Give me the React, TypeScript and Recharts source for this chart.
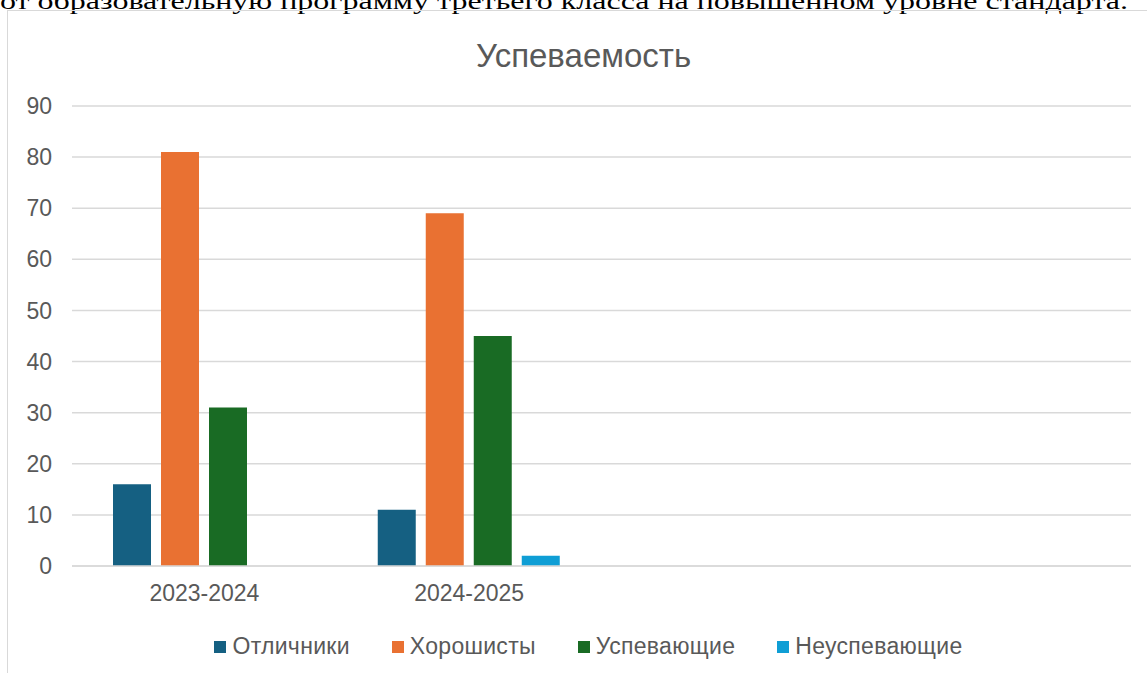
import { BarChart, Bar, XAxis, YAxis, CartesianGrid, Legend } from 'recharts';

const categories = ['2023-2024', '2024-2025', '', ''];
const otlichniki = [16, 11, null, null];
const horoshisty = [81, 69, null, null];
const uspevayushchie = [31, 45, null, null];
const neuspevayushchie = [0, 2, null, null];
const yTicks = [0, 10, 20, 30, 40, 50, 60, 70, 80, 90];

const SERIES = [
  { key: 'otl', name: 'Отличники', color: '#156082', values: otlichniki },
  { key: 'hor', name: 'Хорошисты', color: '#E97132', values: horoshisty },
  { key: 'usp', name: 'Успевающие', color: '#196B24', values: uspevayushchie },
  { key: 'neu', name: 'Неуспевающие', color: '#0F9ED5', values: neuspevayushchie },
];

const data = categories.map((name, i) => {
  const row: any = { id: i, name };
  SERIES.forEach((s) => { row[s.key] = s.values[i]; });
  return row;
});

const FONT = '"Liberation Sans", Arial, sans-serif';
const TEXT = '#595959';
const GRID = '#d9d9d9';

function LegendRow({ payload = [] }: any) {
  // keep series order (recharts sorts the payload by name)
  const items = SERIES.map((s) => payload.find((p: any) => p.dataKey === s.key)).filter(Boolean);
  return (
    <div style={{ display: 'flex', justifyContent: 'center', alignItems: 'center', fontFamily: FONT, fontSize: 23, color: TEXT }}>
      {items.map((p: any, i: number) => (
        <div key={i} style={{ display: 'flex', alignItems: 'center', marginRight: i < items.length - 1 ? 42 : 0 }}>
          <span style={{ width: 12, height: 12, background: p.color, display: 'inline-block', marginRight: 6 }} />
          <span style={{ letterSpacing: 0.3 }}>{p.value}</span>
        </div>
      ))}
    </div>
  );
}

export default function App() {
  return (
    <div style={{ position: 'absolute', left: 0, top: 0, width: 1147, height: 673, overflow: 'hidden', background: '#fff' }}>
      {/* cut-off line of the document above the chart */}
      <svg width={1147} height={20} style={{ position: 'absolute', left: 0, top: 0 }}>
        <text x={0} y={9} fontFamily='"Liberation Serif", "Times New Roman", serif' fontSize={24} fill="#000"
              textLength={1128} lengthAdjust="spacingAndGlyphs">
          от образовательную программу третьего класса на повышенном уровне стандарта.
        </text>
      </svg>
      {/* chart frame */}
      <div style={{ position: 'absolute', left: 7, top: 10, width: 1200, height: 700, border: `1.5px solid ${GRID}` }} />
      <div style={{ position: 'absolute', left: 0, top: 37, width: 1167, textAlign: 'center', fontFamily: FONT, fontSize: 33, color: TEXT }}>
        Успеваемость
      </div>
      <div style={{ position: 'absolute', left: 0, top: 0 }}>
        <BarChart width={1147} height={673} data={data}
                  margin={{ top: 106, right: 16, bottom: 50, left: 0 }}
                  barGap={10} barCategoryGap={41}>
          <CartesianGrid vertical={false} stroke={GRID} strokeWidth={1.5} />
          <XAxis dataKey="id" tickFormatter={(i: number) => categories[i]} axisLine={{ stroke: GRID, strokeWidth: 1.5 }}
                 tickLine={false} tickSize={0} tickMargin={19} interval={0}
                 tick={{ fontSize: 23, fill: TEXT, fontFamily: FONT }} />
          <YAxis domain={[0, 90]} ticks={yTicks} width={72} axisLine={false} tickLine={false}
                 tickSize={0} tickMargin={20} interval={0}
                 tick={{ fontSize: 23, fill: TEXT, fontFamily: FONT }} />
          <Legend content={<LegendRow />} verticalAlign="bottom"
                  wrapperStyle={{ position: 'absolute', top: 633, left: 0, width: 1177 }} />
          {SERIES.map((s) => (
            <Bar key={s.key} dataKey={s.key} name={s.name} fill={s.color} barSize={38} isAnimationActive={false} />
          ))}
        </BarChart>
      </div>
    </div>
  );
}
